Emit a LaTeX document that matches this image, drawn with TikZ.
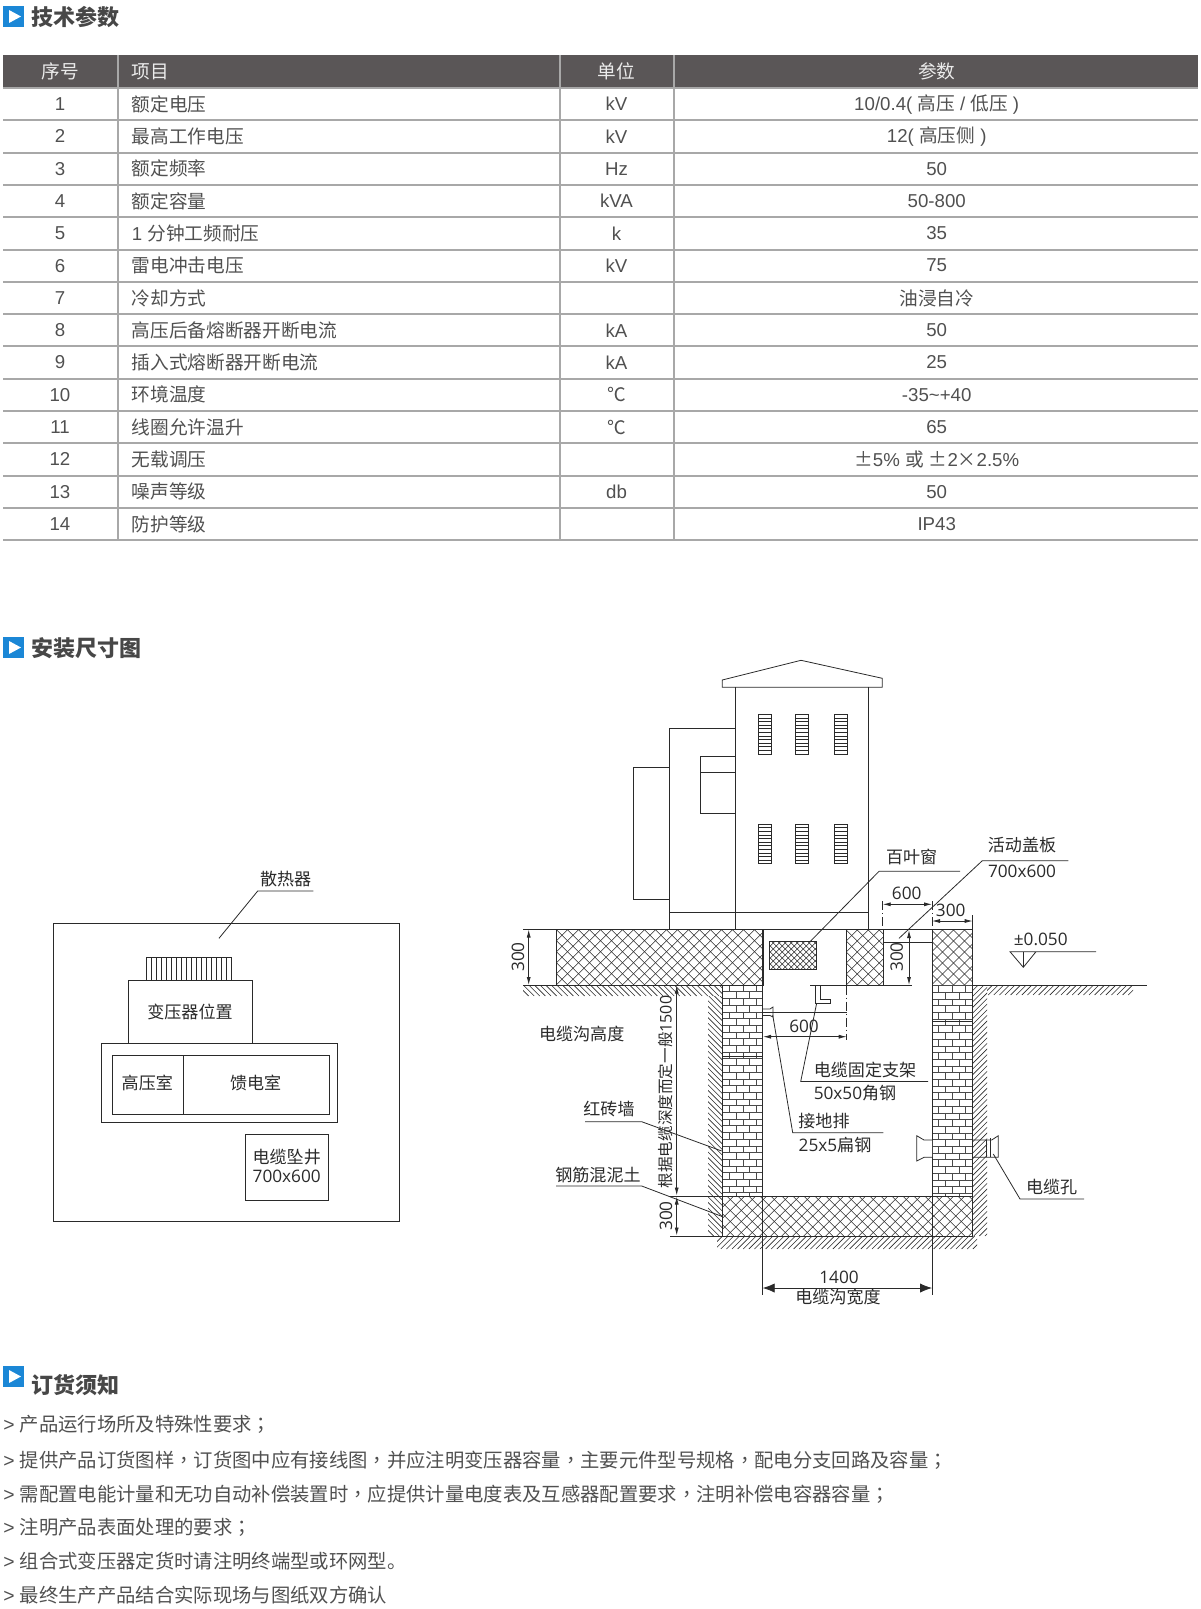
\documentclass[tikz,border=0pt]{standalone}
\usepackage{fontspec}
\usetikzlibrary{arrows.meta}
\setmainfont{Liberation Sans}
\newfontfamily\cjkfont{Noto Sans CJK SC}
\newfontfamily\cjkpunct{Noto Sans CJK TC}
\newfontfamily\cjkwide[RawFeature=+fwid]{Noto Sans CJK SC}
\newfontfamily\dgfont{Open Sans}
\newcommand\zh[1]{{\cjkfont #1}}
\newcommand\pu[1]{{\cjkpunct #1}}
\newcommand\num[1]{{\dgfont\fontsize{12.9pt}{14pt}\selectfont #1}}
\definecolor{tabtxt}{HTML}{505050}
\definecolor{tabline}{HTML}{A8A8A8}
\definecolor{headbg}{HTML}{5A5657}
\definecolor{icon}{HTML}{1B87D6}
\definecolor{ink}{HTML}{2A2A2A}
\tikzset{
  x=0.75pt,y=-0.75pt,
  tabletext/.style={inner sep=0pt,text=tabtxt,font=\fontsize{14pt}{15pt}\selectfont},
  tc/.style={tabletext,anchor=center},
  tl/.style={tabletext,anchor=west},
  hc/.style={inner sep=0pt,text=white!92!black,anchor=center,font=\cjkfont\fontsize{14pt}{15pt}\selectfont},
  title/.style={inner sep=0pt,anchor=west,text=black!72,font=\cjkfont\bfseries\fontsize{16.5pt}{18pt}\selectfont},
  note/.style={inner sep=0pt,anchor=west,text=tabtxt,font=\fontsize{14.5pt}{16pt}\selectfont},
  lab/.style={inner sep=0pt,anchor=center,text=ink,font=\cjkfont\fontsize{12.8pt}{14pt}\selectfont},
  ln/.style={draw=ink,line width=0.6pt},
  thin line/.style={draw=ink,line width=0.45pt},
  hl/.style={draw=ink,line width=0.45pt},
  bl/.style={draw=ink!85,line width=0.35pt},
  dim/.style={ln,{Latex[length=6pt,width=3pt]}-{Latex[length=6pt,width=3pt]}},
  bigdim/.style={ln,{Latex[length=9pt,width=7pt]}-{Latex[length=9pt,width=7pt]}},
  dd/.style={ln,dash pattern=on 7pt off 2pt on 1pt off 2pt},
  grid/.style={draw=tabline,line width=1.5pt},
}
\newcommand\hatchfwd[5]{%
  \begin{scope}
    \clip (#1,#2) rectangle (#3,#4);
    \pgfmathsetmacro\hh{#4-#2}
    \pgfmathsetmacro\sta{#1-\hh}
    \pgfmathsetmacro\stb{\sta+#5}
    \foreach \k in {\sta,\stb,...,#3}{\draw[hl] (\k,#4) -- ({\k+\hh},#2);}
  \end{scope}}
\newcommand\hatchback[5]{%
  \begin{scope}
    \clip (#1,#2) rectangle (#3,#4);
    \pgfmathsetmacro\hh{#4-#2}
    \pgfmathsetmacro\sta{#1-\hh}
    \pgfmathsetmacro\stb{\sta+#5}
    \foreach \k in {\sta,\stb,...,#3}{\draw[hl] (\k,#2) -- ({\k+\hh},#4);}
  \end{scope}}
\newcommand\crosshatch[5]{\hatchfwd{#1}{#2}{#3}{#4}{#5}\hatchback{#1}{#2}{#3}{#4}{#5}\draw[thin line] (#1,#2) rectangle (#3,#4);}
\newcommand\bricks[4]{%
  \begin{scope}
    \clip (#1,#3) rectangle (#2,#4);
    \foreach \i in {0,...,32}{
      \pgfmathsetmacro\yy{#3+6.7*\i}
      \draw[bl] (#1,\yy) -- (#2,\yy);
      \pgfmathsetmacro\off{mod(\i,2)*6.7}
      \foreach \j in {0,1,2,3}{
        \pgfmathsetmacro\xx{#1+\off+6.7+13.4*\j}
        \draw[bl] (\xx,\yy) -- (\xx,{\yy+6.7});
      }
    }
  \end{scope}}
\newcommand\trow[4]{%
  \pgfmathsetmacro\ry{88+32.3*(#1-0.5)}
  \node[tc] (no#1) at (60,\ry) {#1};
  \node[tl] (item#1) at (131.5,\ry) {#2};
  \if\relax\detokenize{#3}\relax\else\node[tc] (unit#1) at (616.5,\ry) {#3};\fi
  \node[tc] (par#1) at (936.7,\ry) {#4};
}
\newcommand\sectionicon[3]{%
  \fill[icon] (3,#1) rectangle (24,{#1+21});
  \fill[white] (9,{#1+4}) -- (21,{#1+10.5}) -- (9,{#1+17}) -- cycle;
  \node[title] (#3) at (31,{#1+11+#2}) {\csname sectitle#3\endcsname};
}
\newcommand\sectitletech{技术参数}
\newcommand\sectitleinst{安装尺寸图}
\newcommand\sectitleorder{订货须知}
\begin{document}
\begin{tikzpicture}
\useasboundingbox (0,0) rectangle (1200,1609);
% ---------- titles
\sectionicon{6}{0}{tech}
\sectionicon{637}{0}{inst}
\sectionicon{1366}{8}{order}
% ---------- table
\fill[headbg] (3,55) rectangle (1198,88);
\foreach \i in {1,...,14}{\pgfmathsetmacro\ly{88+32.3*\i}\draw[grid] (3,\ly) -- (1198,\ly);}
\draw[grid] (3,88) -- (1198,88);
\foreach \cx in {118,559.5,674}{\draw[grid] (\cx,55) -- (\cx,540);}
\node[hc] (h1) at (60,71.7) {序号};
\node[hc,anchor=west] (h2) at (131.5,71.7) {项目};
\node[hc] (h3) at (616.5,71.7) {单位};
\node[hc] (h4) at (936.7,71.7) {参数};
\trow{1}{\zh{额定电压}}{kV}{10/0.4( \zh{高压} / \zh{低压} )}
\trow{2}{\zh{最高工作电压}}{kV}{12( \zh{高压侧} )}
\trow{3}{\zh{额定频率}}{Hz}{50}
\trow{4}{\zh{额定容量}}{kVA}{50-800}
\trow{5}{1 \zh{分钟工频耐压}}{k}{35}
\trow{6}{\zh{雷电冲击电压}}{kV}{75}
\trow{7}{\zh{冷却方式}}{}{\zh{油浸自冷}}
\trow{8}{\zh{高压后备熔断器开断电流}}{kA}{50}
\trow{9}{\zh{插入式熔断器开断电流}}{kA}{25}
\trow{10}{\zh{环境温度}}{\zh{℃}}{-35\textasciitilde+40}
\trow{11}{\zh{线圈允许温升}}{\zh{℃}}{65}
\trow{12}{\zh{无载调压}}{}{{\cjkwide ±}5\% \zh{或} {\cjkwide ±}2{\cjkwide ×}2.5\%}
\trow{13}{\zh{噪声等级}}{db}{50}
\trow{14}{\zh{防护等级}}{}{IP43}
% ---------- plan view
\draw[ln] (53.3,923.3) rectangle (399.3,1221);
\draw[ln] (146,957.3) rectangle (231.3,980.7);
\foreach \k in {1,...,16}{\pgfmathsetmacro\rx{146+5.02*\k}\draw[thin line] (\rx,957.3) -- (\rx,980.7);}
\draw[ln] (128,980.7) rectangle (252.7,1043.3);
\draw[ln] (101.7,1043.3) rectangle (337.7,1122.3);
\draw[ln] (112.3,1055.3) rectangle (329.3,1114);
\draw[ln] (183,1055.3) -- (183,1114);
\draw[ln] (245.3,1134) rectangle (328.7,1200);
\node[lab] (sanre) at (285.7,879.3) {散热器};
\draw[ln] (313.3,891) -- (257.7,891) -- (219,938.3);
\node[lab] (bianya) at (190,1011.7) {变压器位置};
\node[lab] (gaoya) at (147.3,1083.3) {高压室};
\node[lab] (kuidian) at (255.7,1083.3) {馈电室};
\node[lab] (zhuijing) at (286.7,1156.7) {电缆坠井};
\node[lab] (zhuisize) at (286.7,1176) {\num{700x600}};
% ---------- elevation: housing
\draw[ln] (722.3,680) -- (801,660.3) -- (882.3,678.3) -- (882.3,687.3) -- (722.3,687.3) -- cycle;
\draw[ln] (735.7,687.3) -- (735.7,929.5);
\draw[ln] (868,687.3) -- (868,929.5);
\draw[ln] (735.7,728.3) -- (669,728.3) -- (669,929.5);
\draw[ln] (669,767.7) -- (633.7,767.7) -- (633.7,899) -- (669,899);
\draw[ln] (735.7,756) -- (700.3,756) -- (700.3,813.3) -- (735.7,813.3);
\draw[ln] (700.3,772.3) -- (735.7,772.3);
\draw[ln] (669,912.3) -- (868,912.3);
\foreach \lx in {758.7,795.7,834.3}{
  \foreach \ly in {714.3,824}{
    \draw[thin line] (\lx,\ly) rectangle ({\lx+13},{\ly+39.5});
    \foreach \s in {1,...,10}{\draw[thin line] (\lx,{\ly+3.6*\s}) -- ({\lx+13},{\ly+3.6*\s});}
  }
}
% ---------- ground and concrete
\draw[ln] (523,929.5) -- (972.7,929.5);
\crosshatch{556.7}{929.5}{763.3}{985}{11}
\crosshatch{769.3}{941}{816.7}{969}{6}
\crosshatch{846.7}{929.5}{883.3}{985.5}{11}
\crosshatch{932}{929.5}{972.7}{985.5}{11}
\crosshatch{722.7}{1196}{972.7}{1236}{11}
\bricks{722.7}{762.7}{985}{1196}
\bricks{932}{972.7}{985.5}{1196}
\draw[ln] (722.7,985) -- (722.7,1236);
\draw[ln] (972.7,985) -- (972.7,1236);
\draw[ln] (722.7,1056) -- (762.7,1056);
\draw[ln] (932,1021.7) -- (972.7,1021.7);
\draw[ln] (762.7,929.5) -- (762.7,1295);
\draw[ln] (932,929.5) -- (932,1295);
\draw[ln] (722.7,1196) -- (972.7,1196);
\draw[ln] (670,1236) -- (972.7,1236);
\draw[ln] (670,1196) -- (722.7,1196);
\draw[ln] (523,985) -- (762.7,985);
\draw[ln] (810,985) -- (912,985);
\draw[ln] (972.7,985) -- (1146.7,985);
\hatchback{523}{985}{722.7}{996}{5.6}
\hatchback{708}{996}{722.7}{1236}{5.6}
\hatchfwd{717}{1236}{977}{1249}{5.6}
\hatchfwd{972.7}{985}{987}{1236}{5.6}
\hatchfwd{987}{985}{1133}{995}{5.6}
% ---------- dimensions
\draw[dim] (528.7,929.5) -- (528.7,985);
\node[lab,rotate=90] (d300a) at (518,957) {\num{300}};
\draw[dim] (676.7,985.5) -- (676.7,1195.5);
\node[lab,rotate=90,font=\cjkfont\fontsize{11.7pt}{13pt}\selectfont] (dgen) at (665.7,1092) {根据电缆深度而定一般{\dgfont\fontsize{12pt}{13pt}\selectfont 1500}};
\draw[dim] (676.7,1196.5) -- (676.7,1235.5);
\node[lab,rotate=90] (d300b) at (666,1216) {\num{300}};
\node[lab] (dgao) at (581.7,1034) {电缆沟高度};
\draw[dim] (882.7,904.3) -- (932,904.3);
\node[lab] (d600a) at (906.7,893.3) {\num{600}};
\draw[dd] (882.7,901) -- (882.7,929.5);
\draw[dd] (932,901) -- (932,929.5);
\draw[dim] (932,921) -- (972.7,921);
\draw[ln] (972.7,915) -- (972.7,929.5);
\node[lab] (d300c) at (950.7,910) {\num{300}};
\draw[ln] (882.7,942.3) -- (932,942.3);
\draw[dim] (909,930) -- (909,985);
\node[lab,rotate=90] (d300d) at (896.7,957) {\num{300}};
\draw[dd] (846.7,985.5) -- (846.7,1040);
\draw[ln] (763,1012.7) -- (846.7,1012.7);
\draw[dim] (763,1036.7) -- (846.7,1036.7);
\node[lab] (d600b) at (804,1026) {\num{600}};
\draw[bigdim] (762.7,1288) -- (932,1288);
\node[lab] (d1400) at (839,1277) {\num{1400}};
\node[lab] (dkuan) at (838,1297) {电缆沟宽度};
% ---------- bracket and bar
\draw[ln] (815,985) -- (815,1003) -- (830.7,1003) -- (830.7,999.5) -- (820,999.5) -- (820,985);
\draw[ln] (763,1009) -- (770,1009) -- (773,1007) -- (773,1017) -- (770,1015.5) -- (763,1015.5);
% ---------- cable holes
\draw[ln,fill=white] (932,1140) -- (924,1140) -- (916.7,1135.7) -- (916.7,1161) -- (924,1157.3) -- (932,1157.3);
\draw[ln] (972.7,1140) -- (991.7,1140) -- (998.3,1135.7) -- (998.3,1157.3) -- (991.7,1157.3) -- (972.7,1157.3);
\draw[ln] (990,1138) -- (990,1157.3);
\draw[ln] (986.7,1140) -- (986.7,1157.3);
% ---------- leaders
\node[lab] (baiye) at (911.7,856.7) {百叶窗};
\draw[ln] (960,871.3) -- (879,871.3) -- (810,941.7);
\node[lab] (huodong) at (1022,845) {活动盖板};
\node[lab] (huosize) at (1022,871.7) {\num{700x600}};
\draw[ln] (1068.3,860.7) -- (982.3,860.7) -- (899,938.3);
\node[lab] (guding) at (865,1070) {电缆固定支架};
\node[lab] (gusize) at (855,1093) {\num{50x50}角钢};
\draw[ln] (928,1081.5) -- (800.7,1081.5) -- (816.7,1003);
\node[lab] (jiedi) at (824,1120.7) {接地排};
\node[lab] (jiesize) at (835,1145) {\num{25x5}扁钢};
\draw[ln] (883.3,1132.7) -- (792.7,1132.7) -- (772.7,1015);
\node[lab] (hongzhuan) at (609,1109) {红砖墙};
\draw[ln] (585,1121.7) -- (641.7,1121.7) -- (721.7,1151);
\node[lab] (gangjin) at (598,1175) {钢筋混泥土};
\draw[ln] (556,1186) -- (641.7,1186) -- (722.7,1216.7);
\node[lab] (kong) at (1051.7,1187) {电缆孔};
\draw[ln] (1084,1199) -- (1020,1199) -- (993.3,1154);
% ---------- level mark
\node[lab] (level) at (1040.7,939.3) {\num{±0.050}};
\draw[ln] (1096,951.7) -- (1010,951.7) -- (1023.3,967.3) -- (1036,951.7);
\draw[ln] (1023.3,951.7) -- (1023.3,967.3);
% ---------- notes
\node[note] (n1) at (3,1424.5) {> \zh{产品运行场所及特殊性要求}\pu{；}};
\node[note] (n2) at (3,1459.8) {> \zh{提供产品订货图样}\pu{，}\zh{订货图中应有接线图}\pu{，}\zh{并应注明变压器容量}\pu{，}\zh{主要元件型号规格}\pu{，}\zh{配电分支回路及容量}\pu{；}};
\node[note] (n3) at (3,1493.8) {> \zh{需配置电能计量和无功自动补偿装置时}\pu{，}\zh{应提供计量电度表及互感器配置要求}\pu{，}\zh{注明补偿电容器容量}\pu{；}};
\node[note] (n4) at (3,1527.2) {> \zh{注明产品表面处理的要求}\pu{；}};
\node[note] (n5) at (3,1561) {> \zh{组合式变压器定货时请注明终端型或环网型。}};
\node[note] (n6) at (3,1595) {> \zh{最终生产产品结合实际现场与图纸双方确认}};
\end{tikzpicture}
\end{document}
